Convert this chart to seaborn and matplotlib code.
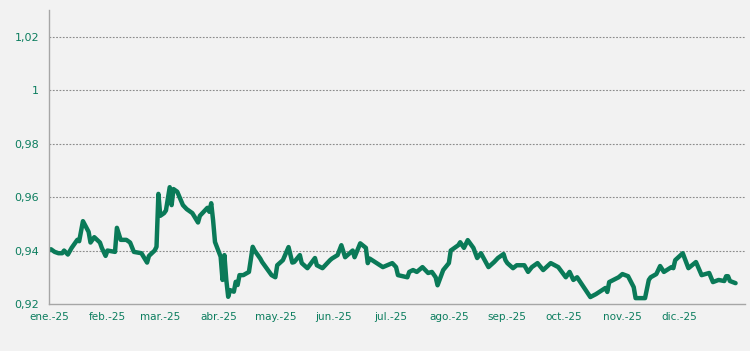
import matplotlib
matplotlib.use("Agg")
import matplotlib.pyplot as plt
from matplotlib.ticker import FuncFormatter
import seaborn as sns
import pandas as pd

dates = [
    "2025-01-01", "2025-01-02", "2025-01-04", "2025-01-06", "2025-01-08", "2025-01-09",
    "2025-01-11", "2025-01-13", "2025-01-16", "2025-01-17", "2025-01-19", "2025-01-22",
    "2025-01-23", "2025-01-25", "2025-01-28", "2025-01-29", "2025-01-31", "2025-02-01",
    "2025-02-05", "2025-02-06", "2025-02-08", "2025-02-11", "2025-02-13", "2025-02-15",
    "2025-02-19", "2025-02-22", "2025-02-23", "2025-02-26", "2025-02-27", "2025-02-28",
    "2025-03-01", "2025-03-03", "2025-03-04", "2025-03-06", "2025-03-07", "2025-03-08",
    "2025-03-10", "2025-03-13", "2025-03-15", "2025-03-18", "2025-03-21", "2025-03-22",
    "2025-03-26", "2025-03-27", "2025-03-28", "2025-03-29", "2025-03-30", "2025-04-01",
    "2025-04-02", "2025-04-03", "2025-04-04", "2025-04-05", "2025-04-06", "2025-04-07",
    "2025-04-09", "2025-04-10", "2025-04-11", "2025-04-12", "2025-04-14", "2025-04-17",
    "2025-04-19", "2025-04-20", "2025-04-23", "2025-04-24", "2025-04-29", "2025-05-01",
    "2025-05-02", "2025-05-05", "2025-05-08", "2025-05-10", "2025-05-11", "2025-05-14",
    "2025-05-15", "2025-05-18", "2025-05-22", "2025-05-23", "2025-05-26", "2025-05-30",
    "2025-05-31", "2025-06-03", "2025-06-05", "2025-06-07", "2025-06-11", "2025-06-12",
    "2025-06-15", "2025-06-18", "2025-06-19", "2025-06-20", "2025-06-27", "2025-07-02",
    "2025-07-04", "2025-07-05", "2025-07-10", "2025-07-11", "2025-07-13", "2025-07-15",
    "2025-07-18", "2025-07-21", "2025-07-23", "2025-07-25", "2025-07-26", "2025-07-29",
    "2025-08-01", "2025-08-02", "2025-08-06", "2025-08-07", "2025-08-09", "2025-08-11",
    "2025-08-14", "2025-08-16", "2025-08-18", "2025-08-22", "2025-08-25", "2025-08-27",
    "2025-08-30", "2025-08-31", "2025-09-01", "2025-09-04", "2025-09-06", "2025-09-10",
    "2025-09-12", "2025-09-14", "2025-09-17", "2025-09-20", "2025-09-24", "2025-09-28",
    "2025-10-02", "2025-10-04", "2025-10-06", "2025-10-08", "2025-10-15", "2025-10-18",
    "2025-10-23", "2025-10-24", "2025-10-25", "2025-10-30", "2025-11-01", "2025-11-04",
    "2025-11-07", "2025-11-08", "2025-11-13", "2025-11-15", "2025-11-16", "2025-11-19",
    "2025-11-21", "2025-11-23", "2025-11-27", "2025-11-28", "2025-11-29", "2025-12-03",
    "2025-12-06", "2025-12-10", "2025-12-13", "2025-12-17", "2025-12-19", "2025-12-22",
    "2025-12-25", "2025-12-26", "2025-12-27", "2025-12-28", "2025-12-31",
]
values = [
    0.9400, 0.9405, 0.9395, 0.9390, 0.9390, 0.9400,
    0.9385, 0.9410, 0.9440, 0.9435, 0.9510, 0.9470,
    0.9430, 0.9450, 0.9430, 0.9410, 0.9380, 0.9400,
    0.9395, 0.9485, 0.9440, 0.9440, 0.9430, 0.9395,
    0.9390, 0.9355, 0.9380, 0.9400, 0.9414, 0.9612,
    0.9530, 0.9540, 0.9550, 0.9637, 0.9570, 0.9630,
    0.9620, 0.9570, 0.9555, 0.9540, 0.9505, 0.9530,
    0.9560, 0.9545, 0.9577, 0.9513, 0.9432, 0.9395,
    0.9377, 0.9290, 0.9383, 0.9290, 0.9227, 0.9252,
    0.9246, 0.9283, 0.9271, 0.9308, 0.9308, 0.9320,
    0.9414, 0.9400, 0.9370, 0.9357, 0.9308, 0.9300,
    0.9345, 0.9364, 0.9413, 0.9355, 0.9357, 0.9383,
    0.9353, 0.9334, 0.9372, 0.9345, 0.9334, 0.9364,
    0.9370, 0.9383, 0.9420, 0.9375, 0.9400, 0.9375,
    0.9427, 0.9410, 0.9353, 0.9370, 0.9338, 0.9353,
    0.9338, 0.9308, 0.9300, 0.9320, 0.9327, 0.9320,
    0.9338, 0.9316, 0.9320, 0.9300, 0.9270, 0.9327,
    0.9353, 0.9400, 0.9420, 0.9431, 0.9410, 0.9439,
    0.9410, 0.9372, 0.9390, 0.9338, 0.9357, 0.9372,
    0.9387, 0.9364, 0.9353, 0.9334, 0.9345, 0.9345,
    0.9320, 0.9338, 0.9353, 0.9327, 0.9353, 0.9338,
    0.9300, 0.9320, 0.9290, 0.9300, 0.9226, 0.9237,
    0.9260, 0.9245, 0.9282, 0.9300, 0.9312, 0.9304,
    0.9263, 0.9222, 0.9222, 0.9290, 0.9300, 0.9312,
    0.9342, 0.9320, 0.9338, 0.9334, 0.9364, 0.9390,
    0.9334, 0.9357, 0.9308, 0.9316, 0.9282, 0.9290,
    0.9286, 0.9304, 0.9304, 0.9286, 0.9278,
]

month_labels = ["ene.-25", "feb.-25", "mar.-25", "abr.-25", "may.-25", "jun.-25",
                "jul.-25", "ago.-25", "sep.-25", "oct.-25", "nov.-25", "dic.-25", ""]
y_ticks = [0.92, 0.94, 0.96, 0.98, 1.00, 1.02]

df = pd.DataFrame({"fecha": pd.to_datetime(dates), "valor": values})

sns.set_style("white")
plt.rcParams['font.family'] = ['DejaVu Sans']

bg = "#f2f2f2"
line_color = "#0a7a58"
text_color = "#0b7d5e"
axis_gray = "#a6a6a6"

fig = plt.figure(figsize=(7.5, 3.51), dpi=100, facecolor=bg)
ax = fig.add_axes([49 / 750, 1 - 304 / 351, (745 - 49) / 750, (304 - 10) / 351])
ax.set_facecolor(bg)

sns.lineplot(data=df, x="fecha", y="valor", ax=ax, color=line_color, linewidth=3.2,
             solid_joinstyle="round", solid_capstyle="round")

ax.set_ylim(0.92, 1.03)
ax.set_xlim(pd.Timestamp("2025-01-01"), pd.Timestamp("2026-01-05"))

ax.set_yticks(y_ticks)
ax.yaxis.set_major_formatter(FuncFormatter(
    lambda v, p: ("%.2f" % v).rstrip("0").rstrip(".").replace(".", ",")))
month_ticks = pd.date_range("2025-01-01", "2026-01-01", freq="MS")
ax.set_xticks(month_ticks)
ax.set_xticklabels(month_labels)

for yv in y_ticks[1:]:
    ax.axhline(yv, color="#8c8c8c", linestyle=(0, (1.6, 1.4)), linewidth=0.8, zorder=0)

for side in ["top", "right"]:
    ax.spines[side].set_visible(False)
for side in ["left", "bottom"]:
    ax.spines[side].set_color(axis_gray)
    ax.spines[side].set_linewidth(1.0)

ax.tick_params(axis="x", length=4, width=1, color=axis_gray, direction="out",
               labelsize=7.5, labelcolor=text_color, pad=2)
ax.tick_params(axis="y", length=4, width=1, color=axis_gray, direction="out",
               labelsize=8, labelcolor=text_color, pad=3)
ax.set_xlabel("")
ax.set_ylabel("")

fig.savefig("out.png", dpi=100, facecolor=bg)
